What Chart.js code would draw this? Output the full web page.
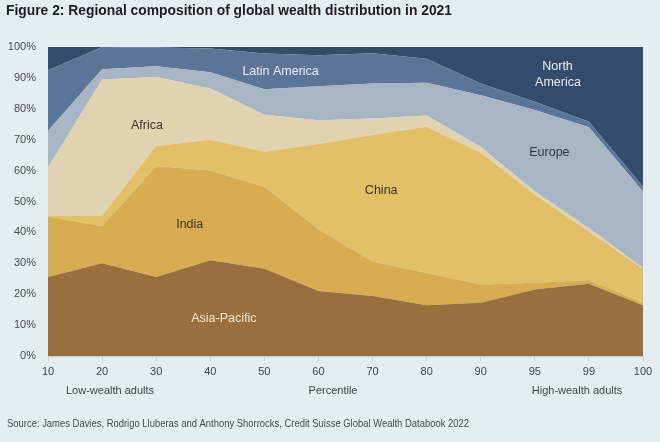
<!DOCTYPE html>
<html>
<head>
<meta charset="utf-8">
<script src="https://cdn.jsdelivr.net/npm/chart.js@4"></script>
<style>
  html, body { margin: 0; padding: 0; background: #e4eef1; }
  #wrap { width: 660px; height: 442px; position: relative; }
</style>
</head>
<body>
<div id="wrap"><canvas id="wealthChart" width="660" height="442"></canvas></div>
<script>
// percentiles on the x axis
const percentiles = ["10", "20", "30", "40", "50", "60", "70", "80", "90", "95", "99", "100"];

// share of each region per percentile (stacked, bottom to top)
const asiaPacific  = [25.6, 30.0, 25.6, 31.0, 28.2, 21.0, 19.4, 16.4, 17.2, 21.5, 23.4, 16.4];
const india        = [19.6, 12.0, 35.9, 29.0, 26.6, 20.0, 11.2, 10.5,  5.9,  2.2,  1.1,  0.8];
const china        = [ 0.3,  3.4,  6.5, 10.0, 11.3, 27.6, 40.9, 47.3, 42.7, 28.5, 15.8, 11.0];
const africa       = [15.5, 44.1, 22.3, 16.6, 12.0,  7.7,  5.4,  3.6,  1.9,  1.0,  1.1,  0.3];
const europe       = [11.9,  3.3,  3.5,  5.2,  8.2, 11.0, 11.3, 10.6, 16.7, 26.4, 32.6, 24.7];
const latinAmerica = [19.6,  7.2,  6.0,  7.7, 11.6, 10.0,  9.8,  7.8,  3.8,  2.7,  1.8,  1.6];
const northAmerica = [ 7.5,  0.0,  0.2,  0.5,  2.1,  2.7,  2.0,  3.8, 11.8, 17.7, 24.2, 45.2];

const yTicks = [0, 10, 20, 30, 40, 50, 60, 70, 80, 90, 100];

// etiquetas dentro del área: [texto, índice x, valor y, color]
const areaLabels = [
    ["Latin America", 4.3, 92.2, "#e6ecf3"],
    ["North America", 9.42, 93.8, "#e6ecf3"],
    ["Africa", 1.83, 74.7, "#3b3324"],
    ["Europe", 9.27, 65.7, "#2c394c"],
    ["China", 6.16, 53.7, "#3b3324"],
    ["India", 2.62, 42.7, "#3b3324"],
    ["Asia-Pacific", 3.25, 12.2, "#f2e6d6"]
];

const FONT = "'Liberation Sans', Arial, sans-serif";

function makeSet(label, data, color, fill) {
    return {
        label: label,
        data: data,
        backgroundColor: color,
        borderWidth: 0,
        pointRadius: 0,
        tension: 0,
        fill: fill
    };
}

// plugin para textos: título, fuente, etiquetas de áreas
const textPlugin = {
    id: "textPlugin",
    afterDatasetsDraw(chart) {
        const ctx = chart.ctx;
        const x = chart.scales.x;
        const y = chart.scales.y;
        ctx.save();
        ctx.textAlign = "center";
        ctx.textBaseline = "middle";
        ctx.font = "12.5px " + FONT;
        areaLabels.forEach(l => {
            ctx.fillStyle = l[3];
            const px = x.getPixelForValue(l[1]);
            const py = y.getPixelForValue(l[2]);
            if (l[0] === "North America") {
                ctx.fillText("North", px, py);
                ctx.fillText("America", px + 0.5, py + 16);
            } else {
                ctx.fillText(l[0], px, py);
            }
        });
        ctx.restore();
    },
    afterDraw(chart) {
        const ctx = chart.ctx;
        ctx.save();
        ctx.fillStyle = "#1e1e1e";
        ctx.textAlign = "left";
        ctx.textBaseline = "alphabetic";
        ctx.font = "bold 14px " + FONT;
        ctx.fillText("Figure 2: Regional composition of global wealth distribution in 2021", 6, 15, 446);

        ctx.fillStyle = "#444";
        ctx.font = "11px " + FONT;
        ctx.textAlign = "center";
        ctx.textBaseline = "middle";
        ctx.fillText("Low-wealth adults", 110, 391);
        ctx.fillText("Percentile", 333, 391);
        ctx.fillText("High-wealth adults", 577, 391);

        ctx.textAlign = "left";
        ctx.fillStyle = "#4a4a4a";
        ctx.font = "10.5px " + FONT;
        ctx.fillText("Source: James Davies, Rodrigo Lluberas and Anthony Shorrocks, Credit Suisse Global Wealth Databook 2022", 7, 424, 462);
        ctx.restore();
    }
};

const ctx = document.getElementById("wealthChart").getContext("2d");
new Chart(ctx, {
    type: "line",
    data: {
        labels: percentiles,
        datasets: [
            makeSet("Asia-Pacific", asiaPacific, "#9a6f3d", "origin"),
            makeSet("India", india, "#d8ad52", "-1"),
            makeSet("China", china, "#e3c068", "-1"),
            makeSet("Africa", africa, "#e2d3b0", "-1"),
            makeSet("Europe", europe, "#a8b5c5", "-1"),
            makeSet("Latin America", latinAmerica, "#5b7598", "-1"),
            makeSet("North America", northAmerica, "#344c6c", "-1")
        ]
    },
    options: {
        responsive: false,
        animation: false,
        layout: { padding: { top: 47, right: 17, bottom: 0, left: 0 } },
        plugins: {
            legend: { display: false },
            tooltip: { enabled: false }
        },
        scales: {
            x: {
                offset: false,
                grid: { display: true, drawOnChartArea: false, drawTicks: true, tickLength: 5, color: "#c4cdd1" },
                border: { display: true, color: "#c4cdd1" },
                ticks: { color: "#444", font: { family: FONT, size: 11 }, padding: 4, maxRotation: 0, autoSkip: false },
                afterFit(scale) { scale.height = 86; }
            },
            y: {
                stacked: true,
                min: 0,
                max: 100,
                afterBuildTicks(scale) { scale.ticks = yTicks.map(v => ({ value: v })); },
                grid: { display: false, drawTicks: false },
                border: { display: false },
                ticks: {
                    color: "#4a4a4a",
                    font: { family: FONT, size: 11 },
                    padding: 12,
                    callback: v => v + "%"
                },
                afterFit(scale) { scale.width = 48; }
            }
        }
    },
    plugins: [textPlugin]
});
</script>
</body>
</html>
